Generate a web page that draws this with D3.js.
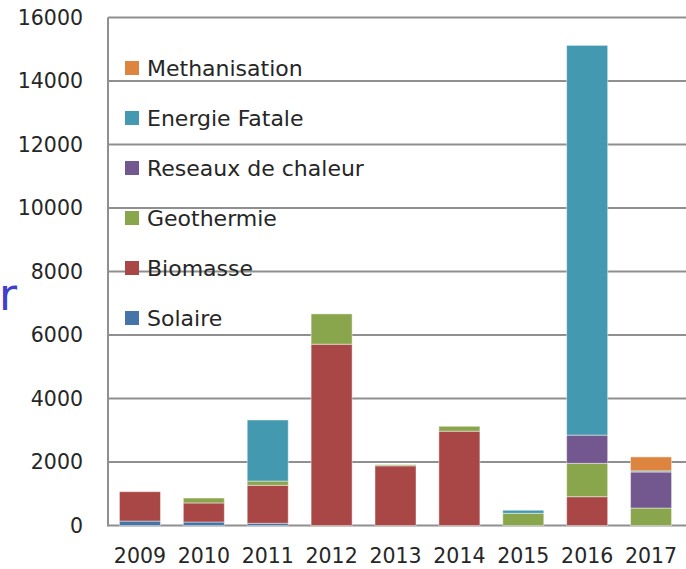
<!DOCTYPE html>
<html>
<head>
<meta charset="utf-8">
<script src="https://cdn.jsdelivr.net/npm/d3@7"></script>
<style>
  body { margin: 0; background: #fff; }
  text { font-family: "DejaVu Sans", sans-serif; fill: #262626; }
</style>
</head>
<body>
<div id="chart"></div>
<script>
const years = ["2009", "2010", "2011", "2012", "2013", "2014", "2015", "2016", "2017"];
const seriesNames = ["Solaire", "Biomasse", "Geothermie", "Reseaux de chaleur", "Energie Fatale", "Methanisation"];
const solaire = [140, 110, 70, 0, 0, 0, 0, 0, 0];
const biomasse = [925, 600, 1196, 5710, 1880, 2970, 0, 907, 0];
const geothermie = [0, 155, 134, 955, 35, 155, 385, 1050, 550];
const reseaux = [0, 0, 0, 0, 0, 0, 0, 890, 1135];
const fatale = [0, 0, 1923, 0, 0, 0, 95, 12275, 35];
const methanisation = [0, 0, 0, 0, 0, 0, 0, 0, 440];
const yTicks = [0, 2000, 4000, 6000, 8000, 10000, 12000, 14000, 16000];
const colors = ["#4474A8", "#A84745", "#8AA64D", "#72588F", "#4299B0", "#DD843E"];

const width = 686;
const height = 569;
const margin = {t: 17.5, b: 43.5, l: 108, r: 3};

const svg = d3.select("#chart")
    .append("svg")
    .attr("width", width)
    .attr("height", height)
    .attr("viewBox", [0, 0, width, height]);

// table for the stack
const allSeries = [solaire, biomasse, geothermie, reseaux, fatale, methanisation];
const table = years.map((y, i) => {
    let row = {year: y};
    seriesNames.forEach((s, k) => row[s] = allSeries[k][i]);
    return row;
});
const stacked = d3.stack().keys(seriesNames)(table);

const xScale = d3.scaleBand()
    .domain(years)
    .range([margin.l, width - margin.r])
    .paddingInner(0.358)
    .paddingOuter(0.179);

const yScale = d3.scaleLinear()
    .domain([0, 16000])
    .range([height - margin.b, margin.t]);

// grid lines
svg.append("g")
    .selectAll("line")
    .data(yTicks)
    .join("line")
    .attr("x1", margin.l)
    .attr("x2", width)
    .attr("y1", d => yScale(d))
    .attr("y2", d => yScale(d))
    .style("stroke", "#8f8f8f")
    .style("stroke-width", 2);

// left axis line
svg.append("line")
    .attr("x1", margin.l)
    .attr("x2", margin.l)
    .attr("y1", yScale(16000))
    .attr("y2", yScale(0) + 1)
    .style("stroke", "#8f8f8f")
    .style("stroke-width", 2);

// Y axis labels
const yAxis = d3.axisLeft(yScale).tickValues(yTicks).tickSize(0).tickPadding(25).tickFormat(d3.format("d"));
svg.append("g")
    .attr("class", "yAxis")
    .attr("transform", `translate(${margin.l}, 0)`)
    .style("font-size", "20.5px")
    .style("font-family", "DejaVu Sans")
    .call(yAxis)
    .call(g => g.select(".domain").remove());

// X axis labels
const xAxis = d3.axisBottom(xScale).tickSize(0).tickPadding(23);
svg.append("g")
    .attr("class", "xAxis")
    .attr("transform", `translate(0, ${yScale(0)})`)
    .style("font-size", "20.5px")
    .style("font-family", "DejaVu Sans")
    .call(xAxis)
    .call(g => g.select(".domain").remove());

svg.selectAll(".tick text").style("fill", "#262626");

// bars
stacked.forEach((layer, k) => {
    svg.append("g")
        .selectAll("rect")
        .data(layer.filter(d => d[1] - d[0] > 0))
        .join("rect")
        .attr("x", d => xScale(d.data.year))
        .attr("y", d => yScale(d[1]))
        .attr("width", xScale.bandwidth())
        .attr("height", d => yScale(d[0]) - yScale(d[1]))
        .style("fill", colors[k])
        .style("stroke", "rgba(255,255,255,0.45)")
        .style("stroke-width", 1);
});

//Legend
const legendX = 125;
const legendTop = 68;
const legend = svg.append("g");
seriesNames.slice().reverse().forEach((s, i) => {
    let k = seriesNames.indexOf(s);
    legend.append("rect")
        .attr("x", legendX)
        .attr("y", legendTop + i * 50 - 7)
        .attr("width", 14)
        .attr("height", 14)
        .style("fill", colors[k]);
    legend.append("text")
        .attr("x", legendX + 22)
        .attr("y", legendTop + i * 50)
        .attr("dy", "0.36em")
        .style("font-size", "22px")
        .text(s);
});

// cut-off axis title on the left
svg.append("text")
    .attr("x", -1)
    .attr("y", 310)
    .style("font-size", "44px")
    .style("fill", "#4040C8")
    .text("r");
</script>
</body>
</html>
